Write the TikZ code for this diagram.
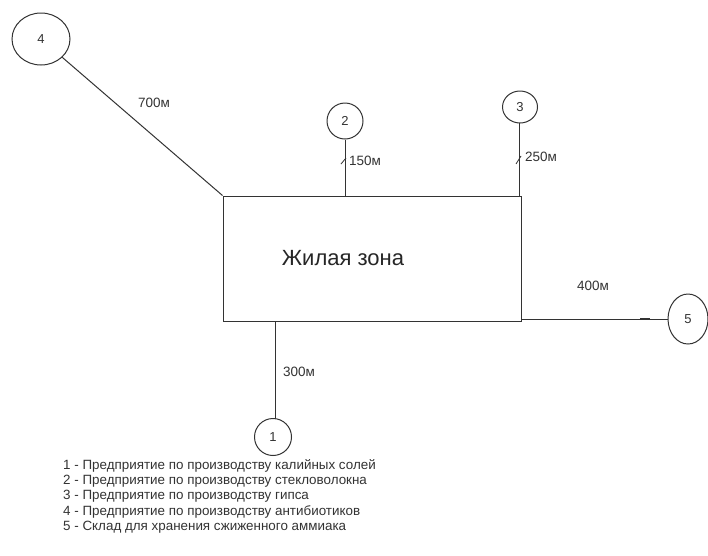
\documentclass[tikz,border=0pt]{standalone}
\usepackage{fontspec}
\setmainfont{Liberation Sans}
\usetikzlibrary{shapes.geometric}
\definecolor{ink}{HTML}{333333}
\begin{document}
\begin{tikzpicture}[x=1pt,y=-1pt,
  site/.style={draw=ink,line width=1pt,ellipse,inner sep=0pt,font=\fontsize{13}{13}\selectfont,text=ink},
  link/.style={draw=ink,line width=1pt},
  dist/.style={font=\fontsize{13.5}{13.5}\selectfont,text=ink,inner sep=0pt},
  legend/.style={anchor=west,font=\fontsize{13.4}{14}\selectfont,text=ink,inner sep=0pt},
  tick/.style={draw=ink,line width=0.8pt}]
\useasboundingbox (0,0) rectangle (708,555);
\fill[white] (0,0) rectangle (708,555);
\node[draw=ink,line width=1pt,minimum width=298pt,minimum height=125pt,inner sep=0pt] (zone) at (372,258.5) {};
\node[font=\fontsize{22}{22}\selectfont,text=black!85] (zt) at (343,258) {Жилая зона};
\node[site,minimum width=58pt,minimum height=52pt] (c4) at (41,39) {4};
\node[site,minimum width=36pt,minimum height=36pt] (c2) at (345,121) {2};
\node[site,minimum width=35pt,minimum height=32pt] (c3) at (520,107) {3};
\node[site,minimum width=40pt,minimum height=50pt] (c5) at (688,319) {5};
\node[site,minimum width=37pt,minimum height=37pt] (c1) at (273,437) {1};
\coordinate (p2) at (c2.south |- zone.north);
\coordinate (p3) at (519,196);
\coordinate (p5) at (521,319);
\coordinate (p1) at (275,321);
\coordinate (q3) at (519,123);
\coordinate (q1) at (275,419);
\draw[link] (c4) -- (zone.north west);
\draw[link] (c2.south) -- (p2);
\draw[link] (q3) -- (p3);
\draw[link] (p5) -- (c5.west);
\draw[link] (q1) -- (p1);
\node[dist] (d4) at (154,103) {700м};
\node[dist,anchor=west] (d2) at (349,161) {150м};
\node[dist,anchor=west] (d3) at (525,157) {250м};
\node[dist] (d5) at (593,286) {400м};
\node[dist,anchor=west] (d1) at (283,372) {300м};
\draw[tick] (341,164) -- (346,158);
\draw[tick] (516,164) -- (521,156);
\draw[line width=2pt,ink] (640,319) -- (650,319);
\node[legend] (l1) at (63,466) {1 - Предприятие по производству калийных солей};
\node[legend] (l2) at (63,481) {2 - Предприятие по производству стекловолокна};
\node[legend] (l3) at (63,496) {3 - Предприятие по производству гипса};
\node[legend] (l4) at (63,512) {4 - Предприятие по производству антибиотиков};
\node[legend] (l5) at (63,527) {5 - Склад для хранения сжиженного аммиака};
\end{tikzpicture}
\end{document}
